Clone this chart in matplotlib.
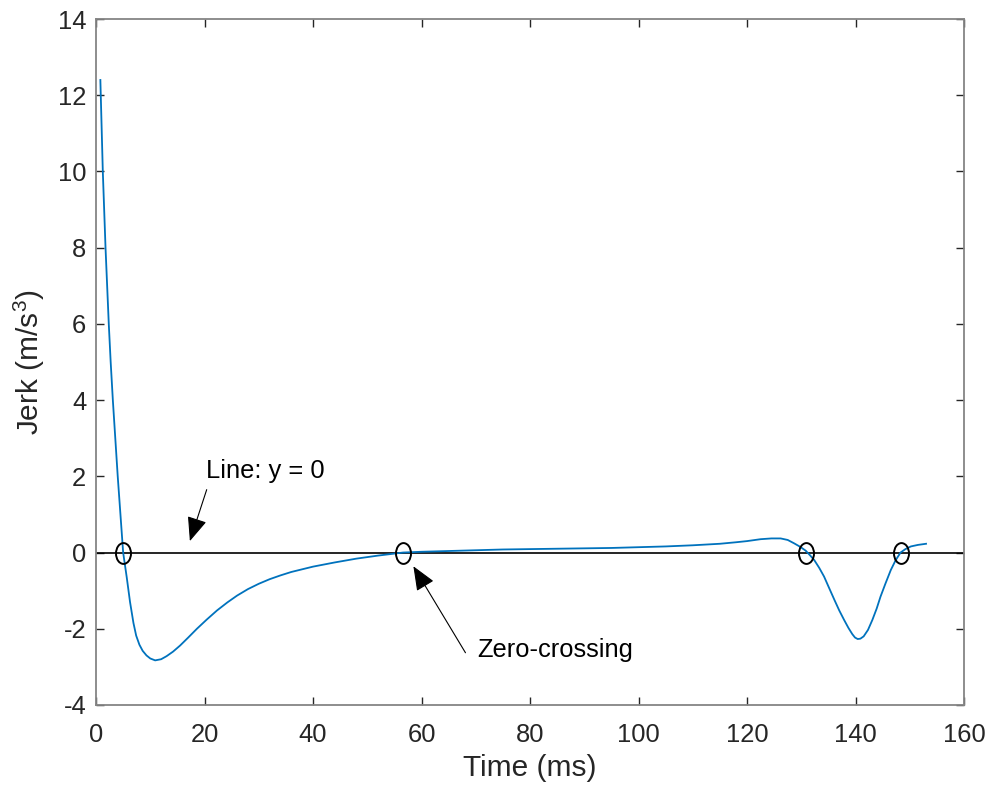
import matplotlib
matplotlib.use('Agg')
import matplotlib.pyplot as plt
from matplotlib.path import Path
from matplotlib.transforms import Affine2D

time_ms = [0.8, 1.25, 1.75, 2.35, 2.7, 3.1, 3.55, 4.0, 4.5, 5.0,
           5.66, 6.27, 6.9, 7.4, 8.0, 8.6, 9.3, 10.0, 10.9, 12.0,
           13.0, 14.2, 15.5, 17.0, 18.6, 20.4, 22.3, 24.2, 26.0, 28.0,
           30.0, 32.0, 34.0, 36.0, 40.0, 44.0, 48.0, 52.0, 56.6, 60,
           65, 70, 75, 80, 85, 90, 95, 100, 105, 110,
           115, 118, 120, 122.5, 124.5, 126.2, 127.5, 128.7, 129.8, 130.8,
           131.6, 132.4, 133.3, 134.2, 135.1, 136.1, 137.0, 137.9, 138.7, 139.4,
           139.9, 140.4, 140.9, 141.5, 142.3, 143.1, 143.9, 144.6, 145.5, 146.5,
           147.4, 148.3, 149.2, 150.2, 151.5, 153.0]
jerk = [12.4, 10.0, 8.0, 6.0, 5.0, 4.0, 3.0, 2.0, 1.0, 0.0,
        -0.65, -1.3, -1.85, -2.18, -2.42, -2.58, -2.7, -2.78, -2.83, -2.8,
        -2.72, -2.6, -2.44, -2.23, -2.0, -1.76, -1.52, -1.31, -1.13, -0.96,
        -0.82, -0.7, -0.6, -0.51, -0.37, -0.26, -0.16, -0.08, 0.0, 0.02,
        0.04, 0.06, 0.08, 0.09, 0.1, 0.11, 0.12, 0.14, 0.16, 0.19,
        0.23, 0.27, 0.3, 0.35, 0.37, 0.37, 0.33, 0.24, 0.15, 0.05,
        -0.07, -0.2, -0.4, -0.63, -0.92, -1.24, -1.52, -1.77, -1.98, -2.14,
        -2.23, -2.27, -2.26, -2.2, -2.03, -1.77, -1.47, -1.16, -0.82, -0.46,
        -0.2, 0.0, 0.09, 0.16, 0.2, 0.23]

crossings_ms = [5.0, 56.6, 130.8, 148.3]

plt.rcParams['font.family'] = ['Liberation Sans', 'DejaVu Sans']
plt.rcParams['mathtext.fontset'] = 'custom'
plt.rcParams['mathtext.rm'] = 'Liberation Sans'
plt.rcParams['axes.unicode_minus'] = False

fig = plt.figure(figsize=(9.92, 7.86), dpi=100)
ax = fig.add_axes([0.0968, 0.1031, 0.875, 0.8727])

ax.plot(time_ms, jerk, color='#0072BD', lw=1.3, zorder=3)
ax.axhline(0, color='black', lw=1.2, zorder=2)

# slightly tall open circles at the zero-crossings
ring = Path.unit_circle().transformed(Affine2D().scale(0.72, 1.0))
ax.plot(crossings_ms, [0] * len(crossings_ms), ls='none', marker=ring,
        ms=15, mfc='none', mec='black', mew=1.4, zorder=4)

arrow = dict(arrowstyle='-|>,head_length=1.5,head_width=0.62', color='black',
             lw=0.8, shrinkA=0, shrinkB=0, mutation_scale=10)
ax.annotate('', xy=(17.3, 0.3), xytext=(20.4, 1.65), arrowprops=arrow)
ax.text(20.3, 2.13, 'Line: y = 0', fontsize=18.4, color='black',
        ha='left', va='center')
ax.annotate('', xy=(58.5, -0.36), xytext=(68.1, -2.63), arrowprops=arrow)
ax.text(70.2, -2.55, 'Zero-crossing', fontsize=18.4, color='black',
        ha='left', va='center')

ax.set_xlim(0, 160)
ax.set_ylim(-4, 14)
ax.set_xticks(range(0, 161, 20))
ax.set_yticks(range(-4, 15, 2))

for s in ax.spines.values():
    s.set_color('#858585')
    s.set_linewidth(1.3)
ax.tick_params(direction='in', length=5.5, width=1, color='#262626',
               labelcolor='#262626', labelsize=18.4, top=True, right=True)
ax.tick_params(axis='y', pad=7)
ax.tick_params(axis='x', pad=13)

ax.set_xlabel('Time (ms)', fontsize=21.5, color='#262626', labelpad=5)
ax.set_ylabel(r'Jerk (m/s$\mathregular{^3}$)', fontsize=21.5, color='#262626',
              labelpad=8)

fig.savefig('out.png', dpi=100)
